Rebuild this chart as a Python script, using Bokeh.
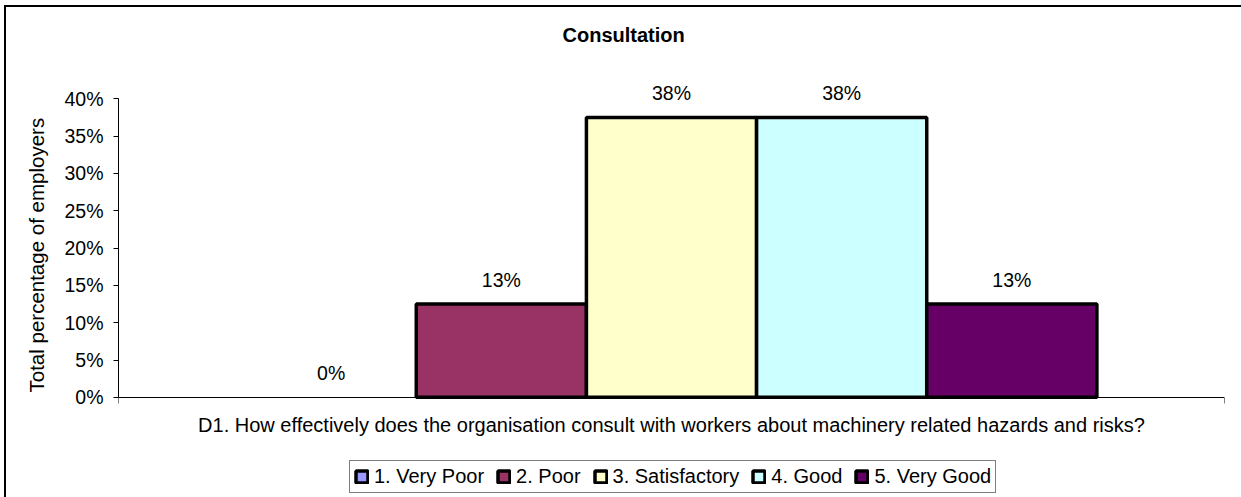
from bokeh.plotting import figure
from bokeh.models import (Range1d, FixedTicker, NumeralTickFormatter, ColumnDataSource,
                          LabelSet, Legend, LegendItem, Title)
from bokeh.core.properties import value
from bokeh.embed import file_html
from bokeh.resources import INLINE

# ---- data ----
title_text = "Consultation"
question = "D1. How effectively does the organisation consult with workers about machinery related hazards and risks?"
y_axis_title = "Total percentage of employers"
categories = ["1. Very Poor", "2. Poor", "3. Satisfactory", "4. Good", "5. Very Good"]
values = [0.0, 0.125, 0.375, 0.375, 0.125]
colors = ["#9999FF", "#993366", "#FFFFCC", "#CCFFFF", "#660066"]
y_ticks = [0.0, 0.05, 0.10, 0.15, 0.20, 0.25, 0.30, 0.35, 0.40]

FONT = "Liberation Sans"
BAR_LINE = 3.5
n = len(categories)
xs = [i - (n - 1) / 2 for i in range(n)]
labels = [f"{int(v * 100 + 0.5)}%" for v in values]
line_widths = [BAR_LINE if v > 0 else 0 for v in values]

src = ColumnDataSource(dict(x=xs, top=values, color=colors, label=labels, cat=categories,
                            lw=line_widths))

# layout geometry (pixels)
FRAME_W, FRAME_H = 1106, 436
PX_PER_UNIT = 746.25          # 40 % spans 298.5 px
ytop = 0.45
ybot = ytop - FRAME_H / PX_PER_UNIT   # frame extends below 0 to hold the legend

half = (n + 1.5) / 2.0
ymax_axis = y_ticks[-1]
p = figure(width=None, height=None, frame_width=FRAME_W, frame_height=FRAME_H,
           output_backend="svg", toolbar_location=None,
           x_range=Range1d(-half, half), y_range=Range1d(ybot, ytop),
           min_border_left=112, min_border_right=17, min_border_top=54, min_border_bottom=0,
           styles={"border-left": "2px solid #000", "border-top": "2px solid #000",
                   "margin-left": "4px", "margin-top": "5px"})
p.outline_line_color = None
p.xgrid.visible = False
p.ygrid.visible = False
p.background_fill_color = "white"
p.border_fill_color = "white"

# bars (zero-height bars draw no outline, as in the original)
p.vbar(x="x", top="top", bottom=0, width=1.0, source=src, fill_color="color",
       line_color="black", line_width="lw")

# legend swatches: renderers with a single undefined (NaN) row, never drawn in the plot
nan = float("nan")
proxies = []
for i in range(n):
    r = p.vbar(x=[nan], top=[nan], bottom=0, width=1.0, fill_color=colors[i],
               line_color="black", line_width=BAR_LINE)
    proxies.append(r)

# title
p.add_layout(Title(text=title_text, align="left", offset=444, vertical_align="middle",
                   standoff=29, text_font=FONT, text_font_size="20px",
                   text_font_style="bold", text_color="black"), "above")

# y axis
ya = p.yaxis[0]
ya.ticker = FixedTicker(ticks=y_ticks)
ya.bounds = (0, ymax_axis)
ya.formatter = NumeralTickFormatter(format="0%")
ya.minor_tick_line_color = None
ya.major_tick_in = 0
ya.major_tick_out = 5
ya.axis_line_color = "black"
ya.major_tick_line_color = "black"
ya.major_label_text_font = FONT
ya.major_label_text_font_size = "19.5px"
ya.major_label_text_color = "black"
ya.major_label_standoff = 10

p.add_layout(Title(text=y_axis_title, align="left", offset=105, vertical_align="middle",
                   standoff=26, text_font=FONT, text_font_size="20.5px",
                   text_font_style="normal", text_color="black"), "left")

# x axis, drawn at y = 0
xa = p.xaxis[0]
xa.fixed_location = 0
xa.ticker = FixedTicker(ticks=[-half, half])
xa.major_label_overrides = {-half: "", half: ""}
xa.major_label_standoff = 0
xa.minor_tick_line_color = None
xa.major_tick_in = 0
xa.major_tick_out = 6
xa.axis_line_color = "black"
xa.major_tick_line_color = "black"
xa.axis_label = question
xa.axis_label_text_font = FONT
xa.axis_label_text_font_size = "20px"
xa.axis_label_text_font_style = "normal"
xa.axis_label_text_color = "black"
xa.axis_label_standoff = 10

# data labels
ls = LabelSet(x="x", y="top", text="label", source=src, y_offset=24,
              text_align="center", text_baseline="middle",
              text_font=value(FONT), text_font_size="19.5px", text_color="black")
p.add_layout(ls)

# legend (inside the frame area, below the axis)
items = [LegendItem(label=categories[i], renderers=[proxies[i]]) for i in range(n)]
legend = Legend(items=items, orientation="horizontal", location=(231, 4),
                border_line_color="black", border_line_width=1,
                background_fill_color="white", background_fill_alpha=1,
                label_text_font=FONT, label_text_font_size="20px", label_text_color="black",
                glyph_width=15, glyph_height=15, label_standoff=5, spacing=12,
                padding=4, margin=0)
p.add_layout(legend, "center")

open("out.html", "w").write(file_html(p, INLINE))
